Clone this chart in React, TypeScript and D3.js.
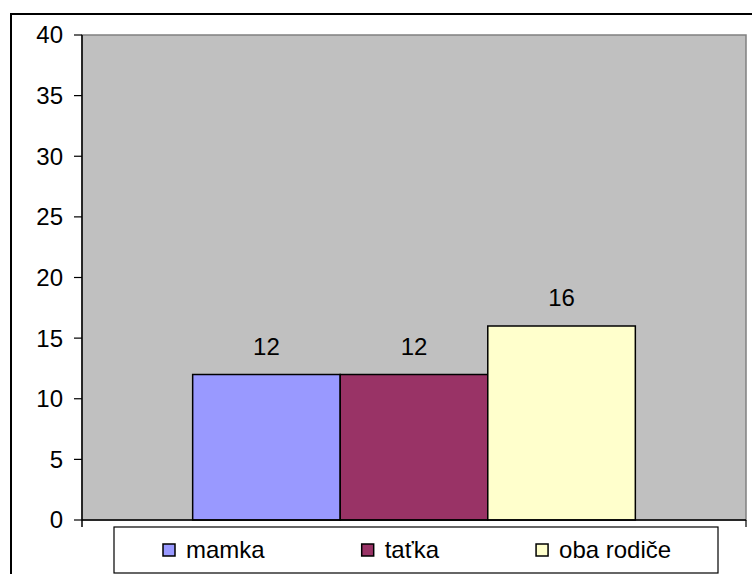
import { useLayoutEffect, useRef, useState } from 'react'
import * as d3 from 'd3'

// chart data
const categories = ['mamka', 'taťka', 'oba rodiče']
const values = [12, 12, 16]
const colors = ['#9999FF', '#993366', '#FFFFCC']
const yTicks = [0, 5, 10, 15, 20, 25, 30, 35, 40]

const W = 752
const H = 574
const FONT = "Arial, 'Liberation Sans', sans-serif"
const FS = 24

const plot = { left: 82, top: 35, right: 746, bottom: 520 }
const legendBox = { x: 114, y: 527, w: 604, h: 46 }

const App = () => {
    const textRefs = useRef<(SVGTextElement | null)[]>([])
    const [textWidths, setTextWidths] = useState<number[]>(categories.map(() => 70))

    useLayoutEffect(() => {
        const w = textRefs.current.map(t => (t ? t.getComputedTextLength() : 70))
        setTextWidths(w)
    }, [])

    const y = d3.scaleLinear()
        .domain([0, 40])
        .range([plot.bottom, plot.top])

    // one category, three series, gap width 150%
    const outer = d3.scaleBand()
        .domain(['all'])
        .range([plot.left, plot.right])
    const barW = outer.bandwidth() / (categories.length + 1.5)
    const x = d3.scaleBand()
        .domain(categories)
        .range([
            (outer('all') ?? 0) + barW * 0.75,
            (outer('all') ?? 0) + outer.bandwidth() - barW * 0.75,
        ])
        .padding(0)

    // legend layout: marker, text, then a fixed gap
    const marker = 12
    const markerGap = 11
    const itemGap = 97
    const itemX: number[] = []
    let cx = legendBox.x + 49
    textWidths.forEach(tw => {
        itemX.push(cx)
        cx += marker + markerGap + tw + itemGap
    })
    const legendMid = legendBox.y + legendBox.h / 2

    return (
        <svg
            width={W}
            height={H}
            style={{ position: 'absolute', left: 0, top: 0, background: '#fff' }}
            fontFamily={FONT}
        >
            {/* outer chart border, runs past the picture edge */}
            <rect x={11} y={14} width={W} height={H} fill="#fff" stroke="#000" strokeWidth={2} />

            {/* plot area */}
            <rect
                x={plot.left}
                y={plot.top}
                width={plot.right - plot.left}
                height={plot.bottom - plot.top}
                fill="#C0C0C0"
                stroke="#808080"
                strokeWidth={1.5}
            />

            {/* bars */}
            {categories.map((c, i) => (
                <g key={c}>
                    <rect
                        x={x(c)}
                        y={y(values[i])}
                        width={x.bandwidth()}
                        height={y(0) - y(values[i])}
                        fill={colors[i]}
                        stroke="#000"
                        strokeWidth={1.5}
                    />
                    <text
                        x={(x(c) ?? 0) + x.bandwidth() / 2}
                        y={y(values[i]) - 20}
                        textAnchor="middle"
                        fontSize={FS}
                        fill="#000"
                    >
                        {values[i]}
                    </text>
                </g>
            ))}

            {/* y axis */}
            <line x1={plot.left} x2={plot.left} y1={plot.top} y2={plot.bottom + 7} stroke="#000" strokeWidth={1.5} />
            {yTicks.map(t => (
                <g key={t}>
                    <line x1={plot.left - 8} x2={plot.left} y1={y(t)} y2={y(t)} stroke="#000" strokeWidth={1.2} />
                    <text
                        x={plot.left - 19}
                        y={y(t)}
                        dy="0.35em"
                        textAnchor="end"
                        fontSize={FS}
                        fill="#000"
                    >
                        {t}
                    </text>
                </g>
            ))}

            {/* x axis */}
            <line x1={plot.left} x2={plot.right} y1={plot.bottom} y2={plot.bottom} stroke="#000" strokeWidth={1.5} />
            <line x1={plot.right} x2={plot.right} y1={plot.bottom} y2={plot.bottom + 7} stroke="#000" strokeWidth={1.2} />

            {/* legend */}
            <rect
                x={legendBox.x}
                y={legendBox.y}
                width={legendBox.w}
                height={legendBox.h}
                fill="#fff"
                stroke="#000"
                strokeWidth={1.2}
            />
            {categories.map((c, i) => (
                <g key={c}>
                    <rect
                        x={itemX[i]}
                        y={legendMid - marker / 2}
                        width={marker}
                        height={marker}
                        fill={colors[i]}
                        stroke="#000"
                        strokeWidth={1.5}
                    />
                    <text
                        ref={el => { textRefs.current[i] = el }}
                        x={itemX[i] + marker + markerGap}
                        y={legendMid}
                        dy="0.35em"
                        fontSize={FS}
                        fill="#000"
                    >
                        {c}
                    </text>
                </g>
            ))}
        </svg>
    )
}

export default App
